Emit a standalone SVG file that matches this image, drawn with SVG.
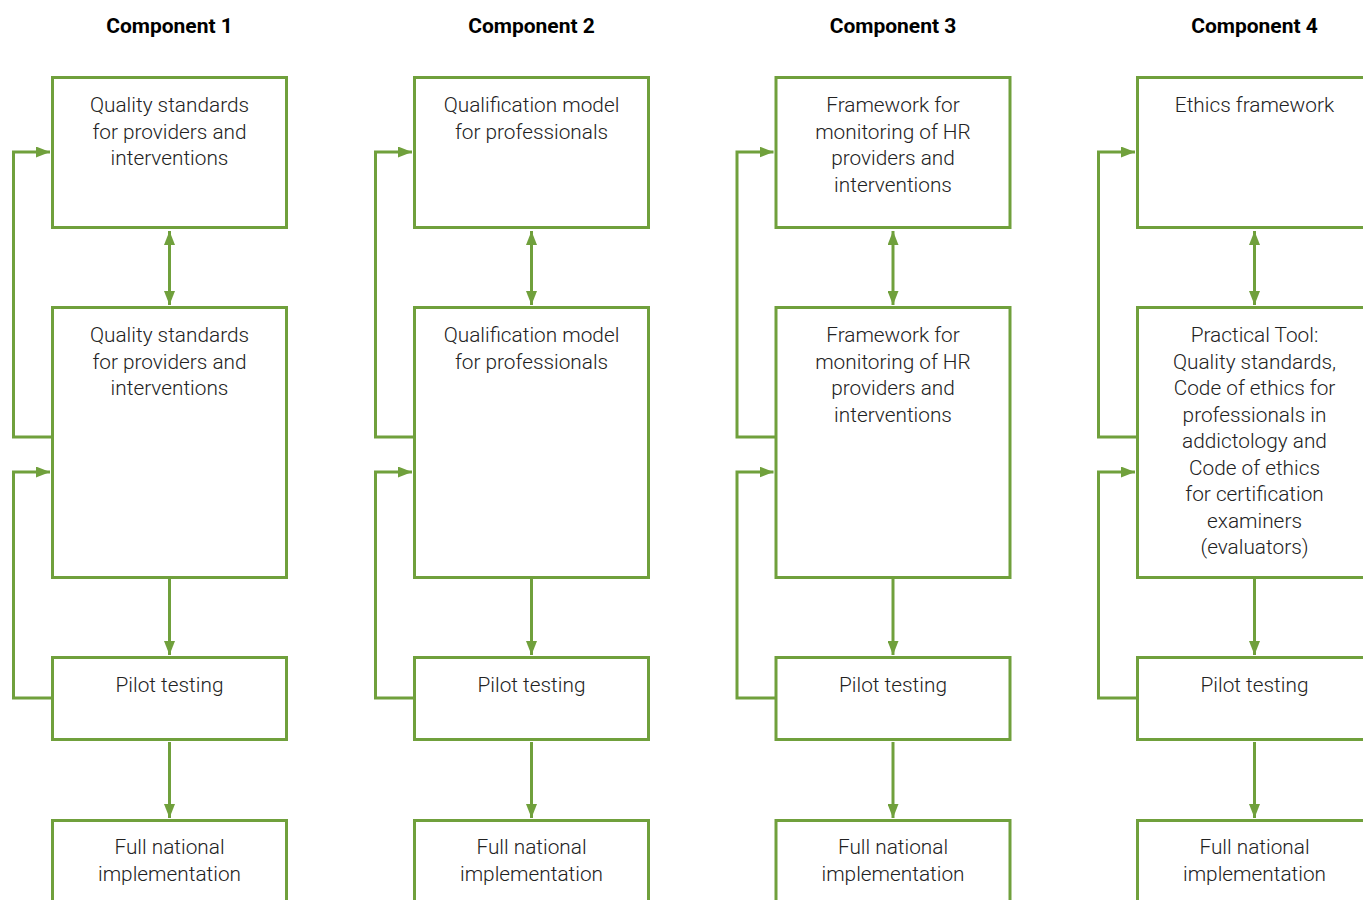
<svg xmlns="http://www.w3.org/2000/svg" width="1363" height="900" viewBox="0 0 1363 900">
<style>
.box{fill:#fff;stroke:#70a03c;stroke-width:3}
.ln{fill:none;stroke:#70a03c;stroke-width:3}
.t{font-family:Roboto,"Liberation Sans",sans-serif;font-weight:300;font-size:20.8px;fill:#222;text-anchor:middle}
.h{font-family:Roboto,"Liberation Sans",sans-serif;font-weight:700;font-size:21px;fill:#000;text-anchor:middle}
</style>
<defs>
<marker id="ah" viewBox="0 0 14 11" refX="14" refY="5.5" markerWidth="14" markerHeight="11" markerUnits="userSpaceOnUse" orient="auto-start-reverse">
<path d="M0,0 L14,5.5 L0,11 z" fill="#70a03c"/>
</marker>
</defs>
<rect width="1363" height="900" fill="#fff"/>
<g id="connectors">
<g id="c1">
<path class="ln" d="M169.5,231 V305" marker-start="url(#ah)" marker-end="url(#ah)"/>
<path class="ln" d="M169.5,579 V655" marker-end="url(#ah)"/>
<path class="ln" d="M169.5,742 V818" marker-end="url(#ah)"/>
<path class="ln" d="M52,437 H13.5 V152 H50" marker-end="url(#ah)"/>
<path class="ln" d="M52,698 H13.5 V472 H50" marker-end="url(#ah)"/>
</g>
<g id="c2" transform="translate(362,0)">
<path class="ln" d="M169.5,231 V305" marker-start="url(#ah)" marker-end="url(#ah)"/>
<path class="ln" d="M169.5,579 V655" marker-end="url(#ah)"/>
<path class="ln" d="M169.5,742 V818" marker-end="url(#ah)"/>
<path class="ln" d="M52,437 H13.5 V152 H50" marker-end="url(#ah)"/>
<path class="ln" d="M52,698 H13.5 V472 H50" marker-end="url(#ah)"/>
</g>
<g id="c3" transform="translate(723.5,0)">
<path class="ln" d="M169.5,231 V305" marker-start="url(#ah)" marker-end="url(#ah)"/>
<path class="ln" d="M169.5,579 V655" marker-end="url(#ah)"/>
<path class="ln" d="M169.5,742 V818" marker-end="url(#ah)"/>
<path class="ln" d="M52,437 H13.5 V152 H50" marker-end="url(#ah)"/>
<path class="ln" d="M52,698 H13.5 V472 H50" marker-end="url(#ah)"/>
</g>
<g id="c4" transform="translate(1085,0)">
<path class="ln" d="M169.5,231 V305" marker-start="url(#ah)" marker-end="url(#ah)"/>
<path class="ln" d="M169.5,579 V655" marker-end="url(#ah)"/>
<path class="ln" d="M169.5,742 V818" marker-end="url(#ah)"/>
<path class="ln" d="M52,437 H13.5 V152 H50" marker-end="url(#ah)"/>
<path class="ln" d="M52,698 H13.5 V472 H50" marker-end="url(#ah)"/>
</g>
</g>

<g id="col1">
<text class="h" x="169.5" y="33">Component 1</text>
<g id="n1a"><rect class="box" x="52.5" y="77.5" width="234" height="150"/>
<text class="t" x="169.5" y="112">Quality standards</text><text class="t" x="169.5" y="138.5">for providers and</text><text class="t" x="169.5" y="165">interventions</text></g>
<g id="n1b"><rect class="box" x="52.5" y="307.5" width="234" height="270"/>
<text class="t" x="169.5" y="342">Quality standards</text><text class="t" x="169.5" y="368.5">for providers and</text><text class="t" x="169.5" y="395">interventions</text></g>
<g id="n1c"><rect class="box" x="52.5" y="657.5" width="234" height="82"/>
<text class="t" x="169.5" y="692">Pilot testing</text></g>
<g id="n1d"><rect class="box" x="52.5" y="820.5" width="234" height="100"/>
<text class="t" x="169.5" y="854">Full national</text><text class="t" x="169.5" y="880.5">implementation</text></g>
</g>

<g id="col2">
<text class="h" x="531.5" y="33">Component 2</text>
<g id="n2a"><rect class="box" x="414.5" y="77.5" width="234" height="150"/>
<text class="t" x="531.5" y="112">Qualification model</text><text class="t" x="531.5" y="138.5">for professionals</text></g>
<g id="n2b"><rect class="box" x="414.5" y="307.5" width="234" height="270"/>
<text class="t" x="531.5" y="342">Qualification model</text><text class="t" x="531.5" y="368.5">for professionals</text></g>
<g id="n2c"><rect class="box" x="414.5" y="657.5" width="234" height="82"/>
<text class="t" x="531.5" y="692">Pilot testing</text></g>
<g id="n2d"><rect class="box" x="414.5" y="820.5" width="234" height="100"/>
<text class="t" x="531.5" y="854">Full national</text><text class="t" x="531.5" y="880.5">implementation</text></g>
</g>

<g id="col3">
<text class="h" x="893" y="33">Component 3</text>
<g id="n3a"><rect class="box" x="776" y="77.5" width="234" height="150"/>
<text class="t" x="893" y="112">Framework for</text><text class="t" x="893" y="138.5">monitoring of HR</text><text class="t" x="893" y="165">providers and</text><text class="t" x="893" y="191.5">interventions</text></g>
<g id="n3b"><rect class="box" x="776" y="307.5" width="234" height="270"/>
<text class="t" x="893" y="342">Framework for</text><text class="t" x="893" y="368.5">monitoring of HR</text><text class="t" x="893" y="395">providers and</text><text class="t" x="893" y="421.5">interventions</text></g>
<g id="n3c"><rect class="box" x="776" y="657.5" width="234" height="82"/>
<text class="t" x="893" y="692">Pilot testing</text></g>
<g id="n3d"><rect class="box" x="776" y="820.5" width="234" height="100"/>
<text class="t" x="893" y="854">Full national</text><text class="t" x="893" y="880.5">implementation</text></g>
</g>

<g id="col4">
<text class="h" x="1254.5" y="33">Component 4</text>
<g id="n4a"><rect class="box" x="1137.5" y="77.5" width="234" height="150"/>
<text class="t" x="1254.5" y="112">Ethics framework</text></g>
<g id="n4b"><rect class="box" x="1137.5" y="307.5" width="234" height="270"/>
<text class="t" x="1254.5" y="342">Practical Tool:</text><text class="t" x="1254.5" y="368.5">Quality standards,</text><text class="t" x="1254.5" y="395">Code of ethics for</text><text class="t" x="1254.5" y="421.5">professionals in</text><text class="t" x="1254.5" y="448">addictology and</text><text class="t" x="1254.5" y="474.5">Code of ethics</text><text class="t" x="1254.5" y="501">for certification</text><text class="t" x="1254.5" y="527.5">examiners</text><text class="t" x="1254.5" y="554">(evaluators)</text></g>
<g id="n4c"><rect class="box" x="1137.5" y="657.5" width="234" height="82"/>
<text class="t" x="1254.5" y="692">Pilot testing</text></g>
<g id="n4d"><rect class="box" x="1137.5" y="820.5" width="234" height="100"/>
<text class="t" x="1254.5" y="854">Full national</text><text class="t" x="1254.5" y="880.5">implementation</text></g>
</g>
</svg>
